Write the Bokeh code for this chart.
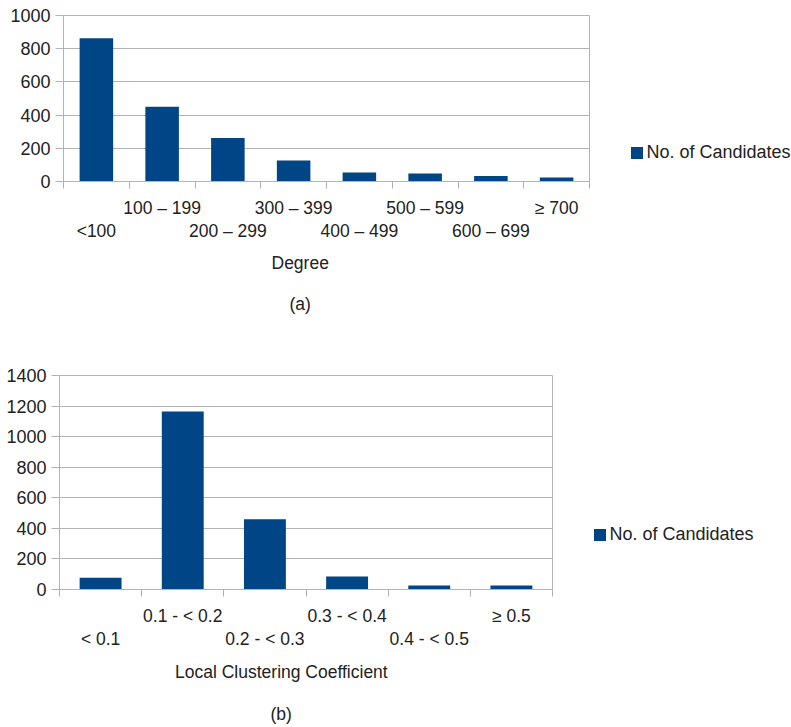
from bokeh.plotting import figure
from bokeh.layouts import column, row
from bokeh.models import Range1d, FixedTicker, Legend, LegendItem, Title
from bokeh.embed import file_html
from bokeh.resources import INLINE

# Degree distribution
degree_labels = ["<100", "100 – 199", "200 – 299", "300 – 399",
                 "400 – 499", "500 – 599", "600 – 699", "≥ 700"]
degree_counts = [863, 451, 262, 127, 54, 48, 33, 24]
degree_ticks = [0, 200, 400, 600, 800, 1000]

# Local clustering coefficient distribution
lcc_labels = ["< 0.1", "0.1 - < 0.2", "0.2 - < 0.3", "0.3 - < 0.4",
              "0.4 - < 0.5", "≥ 0.5"]
lcc_counts = [77, 1164, 459, 85, 26, 26]
lcc_ticks = [0, 200, 400, 600, 800, 1000, 1200, 1400]

series_name = "No. of Candidates"

BAR = "#004586"
GRID = "#b3b3b3"
TEXT = "#222222"
FONT = "Liberation Sans"
FS_Y = "18px"
FS_X = "17.5px"
FS_T = "17.5px"
FS_L = "18px"


def make_panel(labels, counts, yticks, height, frame, axis_title, caption,
               title_offsets, title_standoffs, legend_loc):
    left, top, fw, fh = frame
    n = len(labels)
    p = figure(width=791, height=height, output_backend="svg",
               toolbar_location=None,
               x_range=Range1d(0, n), y_range=Range1d(0, yticks[-1]),
               min_border_left=left, min_border_top=top,
               min_border_right=791 - left - fw,
               min_border_bottom=height - top - fh)
    p.frame_width = fw
    p.frame_height = fh
    p.outline_line_color = GRID
    p.background_fill_color = "white"
    p.border_fill_color = "white"

    xs = [i + 0.5 for i in range(n)]
    r = p.vbar(x=xs, top=counts, width=0.51, bottom=0,
               fill_color=BAR, line_color=None)

    # category axis: labels at bar centres, tick marks at boundaries,
    # labels staggered over two lines
    ax = p.xaxis[0]
    ax.ticker = FixedTicker(ticks=xs, minor_ticks=list(range(n + 1)))
    ax.major_label_overrides = {
        x: (lab + "\n" if i % 2 == 1 else "\n" + lab)
        for i, (x, lab) in enumerate(zip(xs, labels))
    }
    ax.major_tick_out = 0
    ax.major_tick_in = 0
    ax.major_tick_line_color = None
    ax.minor_tick_out = 7
    ax.minor_tick_in = 0
    ax.minor_tick_line_color = GRID
    ax.axis_line_color = GRID
    ax.major_label_standoff = 9
    ax.major_label_text_font = FONT
    ax.major_label_text_font_size = FS_X
    ax.major_label_text_color = TEXT
    ax.major_label_text_line_height = 1.16

    ay = p.yaxis[0]
    ay.ticker = FixedTicker(ticks=yticks)
    ay.major_tick_out = 8
    ay.major_tick_in = 0
    ay.minor_tick_line_color = None
    ay.axis_line_color = GRID
    ay.major_tick_line_color = GRID
    ay.major_label_text_font = FONT
    ay.major_label_text_font_size = FS_Y
    ay.major_label_text_color = TEXT
    ay.major_label_standoff = 5

    p.xgrid.grid_line_color = None
    p.ygrid.grid_line_color = GRID
    p.ygrid.ticker = FixedTicker(ticks=yticks)

    # axis title and panel caption below the category labels
    for txt, off, so in zip((axis_title, caption), title_offsets,
                            title_standoffs):
        p.add_layout(Title(text=txt, align="left", offset=off, standoff=so,
                           text_font=FONT, text_font_size=FS_T,
                           text_font_style="normal", text_color=TEXT),
                     "below")

    legend = Legend(items=[LegendItem(label=series_name, renderers=[r])],
                    location=legend_loc, padding=0, margin=0,
                    glyph_width=15, glyph_height=15, label_height=15,
                    label_standoff=3, border_line_color=None,
                    background_fill_alpha=0,
                    label_text_font=FONT, label_text_font_size=FS_L,
                    label_text_color=TEXT)
    p.add_layout(legend, "right")
    return p


pa = make_panel(degree_labels, degree_counts, degree_ticks, 360,
                (63, 15, 526, 166), "Degree", "(a)",
                (208, 226), (15, 22), (39.5, 18))
pb = make_panel(lcc_labels, lcc_counts, lcc_ticks, 367,
                (59, 15, 493, 214), "Local Clustering Coefficient", "(b)",
                (115.5, 211), (17, 22), (39.5, 44))

layout = column(row(pa), row(pb), spacing=0)
open("out.html", "w").write(file_html(layout, INLINE))
